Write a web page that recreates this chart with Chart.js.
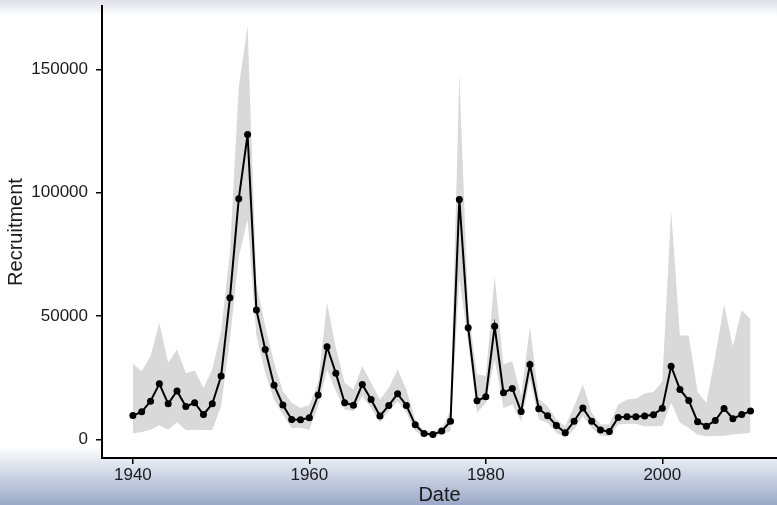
<!DOCTYPE html>
<html>
<head>
<meta charset="utf-8">
<script src="https://cdn.jsdelivr.net/npm/chart.js@4.4.1/dist/chart.umd.min.js"></script>
<style>
html,body{margin:0;padding:0;background:#fff;}
#wrap{width:777px;height:505px;}
</style>
</head>
<body>
<div id="wrap"><canvas id="c" width="777" height="505"></canvas></div>
<script>
const years = [1940,1941,1942,1943,1944,1945,1946,1947,1948,1949,
1950,1951,1952,1953,1954,1955,1956,1957,1958,1959,
1960,1961,1962,1963,1964,1965,1966,1967,1968,1969,
1970,1971,1972,1973,1974,1975,1976,1977,1978,1979,
1980,1981,1982,1983,1984,1985,1986,1987,1988,1989,
1990,1991,1992,1993,1994,1995,1996,1997,1998,1999,
2000,2001,2002,2003,2004,2005,2006,2007,2008,2009,2010];

const recruitment = [9700,11200,15500,22600,14500,19700,13400,14900,10100,14500,
25700,57500,97600,123600,52500,36500,22000,14000,8100,8000,
8800,18000,37600,26900,14900,13900,22300,16200,9500,13800,
18500,13800,5950,2400,2000,3400,7400,97300,45300,15700,
17300,45900,18900,20700,11300,30400,12500,9600,5700,2700,
7400,12800,7400,3800,3200,8900,9200,9200,9500,10000,
12700,29700,20300,15800,7200,5400,7700,12600,8400,10100,11500];

const upperCI = [30700,27700,33800,47300,31100,36500,26800,28000,21000,28400,
43900,76000,143000,167600,63000,46000,31200,19600,14900,12800,
14000,23100,55400,37200,23000,20300,29700,23000,16200,21000,
28400,20300,8100,3400,3300,4700,11500,148000,52700,26400,
25700,66200,30400,31700,17600,45900,16500,13500,8100,5400,
13500,22300,10800,6100,6100,14200,16200,16500,18600,19200,
23500,92600,42200,42200,19200,14900,33800,54700,37800,52400,48700];

const lowerCI = [2400,3000,4000,5800,4000,7000,3800,4000,3800,3800,
13500,40500,74000,89200,42000,27000,16200,10100,4700,4800,
4000,13500,28400,19600,12200,11500,17600,12800,6800,11500,
15500,10800,3400,1350,1300,2000,3400,65000,39500,10800,
14900,32400,12800,14200,7400,24300,8100,6800,2700,700,
4050,9500,4700,1600,1350,6100,6400,6400,5400,5400,
5500,14900,6800,4700,2000,1350,1400,1500,2000,2300,2700];

const xTicks = [1940,1960,1980,2000];
const yTicks = [0,50000,100000,150000];

const toXY = arr => years.map((yr,i)=>({x:yr,y:arr[i]}));

const bgPlugin = {
  id:'bg',
  beforeDraw(chart){
    const {ctx,width,height,chartArea} = chart;
    ctx.save();
    ctx.fillStyle='#ffffff';
    ctx.fillRect(0,0,width,height);
    let g = ctx.createLinearGradient(0,0,0,16);
    g.addColorStop(0,'rgb(222,224,232)');
    g.addColorStop(1,'rgb(255,255,255)');
    ctx.fillStyle=g; ctx.fillRect(0,0,width,16);
    g = ctx.createLinearGradient(0,446,0,height);
    g.addColorStop(0,'rgb(255,255,255)');
    g.addColorStop(1,'rgb(154,169,200)');
    ctx.fillStyle=g; ctx.fillRect(0,446,width,height-446);
    ctx.fillStyle='#ffffff';
    ctx.fillRect(chartArea.left,440,chartArea.right-chartArea.left,chartArea.bottom-440);
    ctx.restore();
  }
};

const tickFont = {family:'"Liberation Sans", Arial, sans-serif', size:17};
const titleFont = {family:'"Liberation Sans", Arial, sans-serif', size:20, lineHeight:1};

new Chart(document.getElementById('c'),{
  type:'line',
  data:{
    datasets:[
      {label:'Recruitment',data:toXY(recruitment),borderColor:'#000',backgroundColor:'#000',
       borderWidth:2,pointRadius:3.5,pointBackgroundColor:'#000',pointBorderWidth:0,tension:0,fill:false},
      {label:'upper',data:toXY(upperCI),borderWidth:0,borderColor:'rgba(0,0,0,0)',pointRadius:0,
       backgroundColor:'#d9d9d9',fill:'+1',tension:0},
      {label:'lower',data:toXY(lowerCI),borderWidth:0,borderColor:'rgba(0,0,0,0)',pointRadius:0,
       backgroundColor:'#d9d9d9',fill:false,tension:0}
    ]
  },
  options:{
    responsive:false,
    animation:false,
    devicePixelRatio:1,
    layout:{autoPadding:false,padding:{top:6,left:0,right:0,bottom:0}},
    plugins:{legend:{display:false},tooltip:{enabled:false}},
    scales:{
      x:{
        type:'linear',min:1936.5,max:2013,
        afterBuildTicks:s=>{s.ticks=xTicks.map(v=>({value:v}));},
        afterFit:s=>{s.height=47;s.paddingLeft=0;s.paddingRight=0;},
        ticks:{font:tickFont,color:'#1a1a1a',padding:1,maxRotation:0,callback:v=>String(v)},
        grid:{display:true,drawOnChartArea:false,drawTicks:true,tickLength:6,color:'#000',lineWidth:1.5},
        border:{display:true,color:'#000',width:2},
        title:{display:true,text:'Date',font:titleFont,color:'#1a1a1a',padding:{top:0,bottom:0}}
      },
      y:{
        type:'linear',min:-7500,max:175700,
        afterBuildTicks:s=>{s.ticks=yTicks.map(v=>({value:v}));},
        afterFit:s=>{s.width=102;s.paddingTop=0;s.paddingBottom=0;},
        ticks:{font:tickFont,color:'#1a1a1a',padding:8,callback:v=>String(v)},
        grid:{display:true,drawOnChartArea:false,drawTicks:true,tickLength:6,color:'#000',lineWidth:1.5},
        border:{display:true,color:'#000',width:2},
        title:{display:true,text:'Recruitment',font:titleFont,color:'#1a1a1a',padding:{top:6,bottom:0}}
      }
    }
  },
  plugins:[bgPlugin]
});
</script>
</body>
</html>
